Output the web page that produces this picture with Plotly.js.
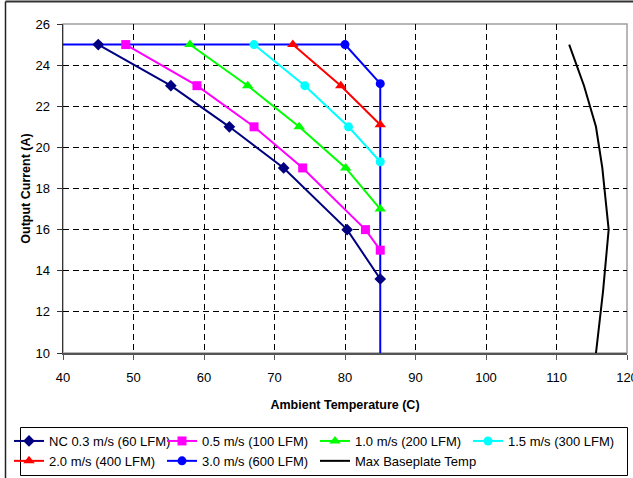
<!DOCTYPE html>
<html>
<head>
<meta charset="utf-8">
<script src="https://cdn.plot.ly/plotly-3.0.1.min.js"></script>
<style>
html, body { margin: 0; padding: 0; background: #fff; }
#chart { width: 633px; height: 478px; }
</style>
</head>
<body>
<div id="chart"></div>
<script>
// Ambient temperature (C) vs output current (A) for each airflow
const seriesNames = [
  "NC 0.3 m/s (60 LFM)",
  "0.5 m/s (100 LFM)",
  "1.0 m/s (200 LFM)",
  "1.5 m/s (300 LFM)",
  "2.0 m/s (400 LFM)",
  "3.0 m/s (600 LFM)",
  "Max Baseplate Temp"
];
const xNC = [45, 55.3, 63.6, 71.3, 80.3, 85];
const yNC = [25, 23, 21, 19, 16, 13.6];
const x05 = [48.9, 59.0, 67.1, 74.0, 82.9, 85];
const y05 = [25, 23, 21, 19, 16, 15];
const x10 = [58, 66.2, 73.5, 80.1, 85];
const y10 = [25, 23, 21, 19, 17];
const x15 = [67.1, 74.3, 80.5, 85];
const y15 = [25, 23, 21, 19.3];
const x20 = [72.6, 79.4, 85];
const y20 = [25, 23, 21.1];
const x30 = [30, 80, 85, 85];
const y30 = [25, 25, 23.1, 0];
const xMax = [111.8, 113.9, 115.6, 116.5, 117.4, 116.6, 115.6];
const yMax = [25, 23, 21, 19, 16, 13, 10];

const xTicks = [40, 50, 60, 70, 80, 90, 100, 110, 120];
const yTicks = [10, 12, 14, 16, 18, 20, 22, 24, 26];

const FONT = "'Liberation Sans', Arial, sans-serif";

function tr(name, x, y, color, symbol, size, rank, showMarker) {
  return {
    type: "scatter",
    mode: showMarker ? "lines+markers" : "lines",
    name: name, x: x, y: y,
    legendrank: rank,
    line: { color: color, width: 2 },
    marker: { color: color, symbol: symbol, size: size },
    hoverinfo: "skip"
  };
}

const data = [
  tr(seriesNames[5], x30, y30, "#0000FF", "circle", 9, 6, true),
  tr(seriesNames[0], xNC, yNC, "#000080", "diamond", 9, 1, true),
  tr(seriesNames[1], x05, y05, "#FF00FF", "square", 9, 2, true),
  tr(seriesNames[2], x10, y10, "#00FF00", "triangle-up", 10, 3, true),
  tr(seriesNames[3], x15, y15, "#00FFFF", "circle", 9, 4, true),
  tr(seriesNames[4], x20, y20, "#FF0000", "triangle-up", 10, 5, true),
  tr(seriesNames[6], xMax, yMax, "#000000", "circle", 1, 7, false)
];

const L = 63, T = 24, W = 564, H = 329;
function px(p) { return (p - L) / W; }
function py(p) { return (T + H - p) / H; }

const layout = {
  width: 633, height: 478,
  margin: { l: L, r: 633 - L - W, t: T, b: 478 - T - H, pad: 0, autoexpand: false },
  paper_bgcolor: "#fff",
  plot_bgcolor: "#fff",
  font: { family: FONT, size: 13, color: "#000" },
  showlegend: true,
  xaxis: {
    range: [40, 120], tickvals: xTicks, ticktext: xTicks.map(String),
    showgrid: true, gridcolor: "#000", gridwidth: 1, griddash: "6px,4px",
    zeroline: false, showline: true, linecolor: "#555", linewidth: 2,
    ticks: "outside", ticklen: 5, tickcolor: "#555", tickwidth: 1,
    ticklabelstandoff: 6, ticklabeloverflow: "allow",
    tickfont: { family: FONT, size: 13, color: "#000" },
    title: { text: "Ambient Temperature (C)", font: { family: FONT, size: 12.5, color: "#000", weight: "bold" }, standoff: 17 },
    fixedrange: true
  },
  yaxis: {
    range: [10, 26], tickvals: yTicks, ticktext: yTicks.map(String),
    showgrid: true, gridcolor: "#000", gridwidth: 1, griddash: "6px,4px",
    zeroline: false, showline: true, linecolor: "#333", linewidth: 1.5,
    ticks: "outside", ticklen: 5, tickcolor: "#333", tickwidth: 1,
    ticklabelstandoff: 4,
    tickfont: { family: FONT, size: 13, color: "#000" },
    title: { text: "Output Current (A)", font: { family: FONT, size: 12.5, color: "#000", weight: "bold" }, standoff: 2 },
    fixedrange: true
  },
  legend: {
    orientation: "h",
    x: px(9), xanchor: "left",
    y: py(426), yanchor: "top",
    bgcolor: "rgba(0,0,0,0)",
    borderwidth: 0,
    entrywidth: 108, entrywidthmode: "pixels",
    itemwidth: 30,
    font: { family: FONT, size: 13, color: "#000" },
    traceorder: "normal"
  },
  shapes: [
    { type: "rect", xref: "paper", yref: "paper", x0: 0, x1: 1, y0: 0, y1: 1,
      line: { color: "#a0a0a0", width: 1.5 }, layer: "below" },
    { type: "rect", xref: "paper", yref: "paper", x0: px(20.5), x1: px(627.5), y0: py(427.5), y1: py(475.5),
      line: { color: "#000", width: 1 } },
    { type: "line", xref: "paper", yref: "paper", x0: px(5.5), x1: px(5.5), y0: py(1.5), y1: py(490),
      line: { color: "#222", width: 1.5 } },
    { type: "line", xref: "paper", yref: "paper", x0: px(5.5), x1: px(640), y0: py(1.5), y1: py(1.5),
      line: { color: "#333", width: 2 } }
  ]
};

Plotly.newPlot("chart", data, layout, { staticPlot: true, displayModeBar: false });
</script>
</body>
</html>
